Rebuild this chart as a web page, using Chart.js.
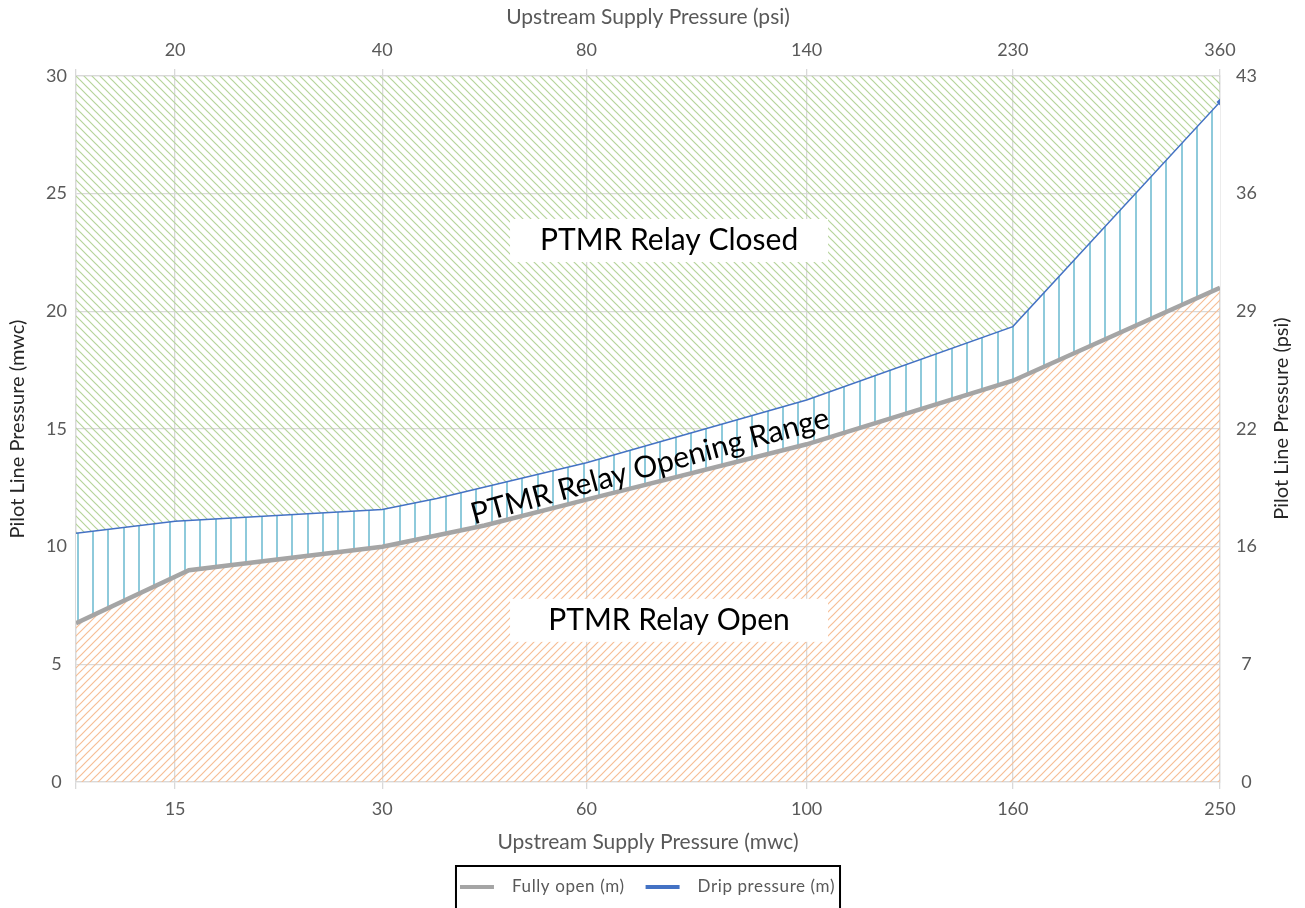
<!DOCTYPE html>
<html>
<head>
<meta charset="utf-8">
<script src="https://cdn.jsdelivr.net/npm/chart.js@4.4.1/dist/chart.umd.min.js"></script>
<style>
  html, body { margin: 0; padding: 0; background: #fff; }
  #wrap { width: 1305px; height: 908px; }
</style>
</head>
<body>
<div id="wrap"><canvas id="chart" width="1305" height="908"></canvas></div>
<script>
// Upstream supply pressure (mwc) at the vertical gridlines, first one is the unlabelled left edge
const upstreamTicks = [10, 15, 30, 60, 100, 160, 250];
const mwcLabels = ['', '15', '30', '60', '100', '160', '250'];
const psiLabels = ['', '20', '40', '80', '140', '230', '360'];
// right axis labels for pilot line pressure 0..30 mwc
const pilotPsiLabels = ['0', '7', '16', '22', '29', '36', '43'];

// Fully open (m)
const fullyOpenX = [10, 16, 30, 45, 60, 100, 160, 250];
const fullyOpenY = [6.75, 9.0, 10.0, 10.9, 12.0, 14.35, 17.05, 21.0];
// Drip pressure (m)
const dripX = [10, 15, 30, 38, 60, 100, 160, 250];
const dripY = [10.57, 11.08, 11.58, 12.05, 13.57, 16.23, 19.35, 28.9];

// relative width of each gap between the vertical gridlines (axis is not linear)
const segWidths = [99, 207, 204, 220, 206, 207];

function toFrac(v) {
    const total = segWidths.reduce((a, b) => a + b, 0);
    let acc = 0;
    for (let i = 0; i < segWidths.length; i++) {
        const a = upstreamTicks[i], b = upstreamTicks[i + 1];
        if (v <= b || i === segWidths.length - 1) {
            return (acc + segWidths[i] * (v - a) / (b - a)) / total;
        }
        acc += segWidths[i];
    }
}

function fromFrac(f) {
    const total = segWidths.reduce((a, b) => a + b, 0);
    let pos = f * total;
    for (let i = 0; i < segWidths.length; i++) {
        if (pos <= segWidths[i] || i === segWidths.length - 1) {
            const a = upstreamTicks[i], b = upstreamTicks[i + 1];
            return a + (b - a) * pos / segWidths[i];
        }
        pos -= segWidths[i];
    }
}

// linear scale, but piecewise between the gridlines
class SegmentScale extends Chart.LinearScale {
    getPixelForValue(v) {
        if (v === null || v === undefined || isNaN(v)) return NaN;
        return this.getPixelForDecimal(toFrac(v));
    }
    getValueForPixel(p) {
        return fromFrac(this.getDecimalForPixel(p));
    }
}
SegmentScale.id = 'segment';
SegmentScale.defaults = {};
Chart.register(SegmentScale);

const canvas = document.getElementById('chart');
const ctx = canvas.getContext('2d');

// hatch fills
function diagonalHatch(color, down) {
    const s = 8;
    const c = document.createElement('canvas');
    c.width = s; c.height = s;
    const g = c.getContext('2d');
    g.strokeStyle = color;
    g.lineWidth = 1.2;
    g.beginPath();
    if (down) {
        g.moveTo(-1, -1); g.lineTo(s + 1, s + 1);
        g.moveTo(-1, s - 1); g.lineTo(1, s + 1);
        g.moveTo(s - 1, -1); g.lineTo(s + 1, 1);
    } else {
        g.moveTo(-1, s + 1); g.lineTo(s + 1, -1);
        g.moveTo(-1, 1); g.lineTo(1, -1);
        g.moveTo(s - 1, s + 1); g.lineTo(s + 1, s - 1);
    }
    g.stroke();
    return ctx.createPattern(c, 'repeat');
}

function verticalLines(color) {
    const c = document.createElement('canvas');
    c.width = 46; c.height = 4;
    const g = c.getContext('2d');
    g.fillStyle = '#ffffff';
    g.fillRect(0, 0, 46, 4);
    g.fillStyle = color;
    [0, 15, 31].forEach(x => g.fillRect(x, 0, 2, 4));
    return ctx.createPattern(c, 'repeat');
}

const greenHatch = diagonalHatch('#B6D49B', true);
const orangeHatch = diagonalHatch('#F6BE96', false);
const cyanLines = verticalLines('#8ECADB');

const tickFont = { family: 'Lato', size: 18 };
const titleFont = { family: 'Lato', size: 21 };
const sideTitleFont = { family: 'Lato', size: 20 };
const gridColor = '#D9D9D9';

// region notes, placed as fractions of the plot area
const regionNotes = [
    { text: 'PTMR Relay Closed', cx: 0.5184, cy: 0.233, w: 0.278, h: 0.061 },
    { text: 'PTMR Relay Open', cx: 0.5184, cy: 0.771, w: 0.278, h: 0.061 }
];
const bandNote = { text: 'PTMR Relay Opening Range', cx: 0.504, cy: 0.566, angle: -15.3 };

const notesPlugin = {
    id: 'notes',
    afterDatasetsDraw(chart) {
        const { ctx, chartArea: a } = chart;
        const w = a.right - a.left, h = a.bottom - a.top;
        ctx.save();
        ctx.font = '30px Lato';
        ctx.textAlign = 'center';
        ctx.textBaseline = 'alphabetic';
        regionNotes.forEach(n => {
            const cx = a.left + n.cx * w, cy = a.top + n.cy * h;
            ctx.fillStyle = '#ffffff';
            ctx.fillRect(cx - n.w * w / 2, cy - n.h * h / 2, n.w * w, n.h * h);
            ctx.fillStyle = '#000000';
            ctx.fillText(n.text, cx, cy + 10);
        });
        ctx.translate(a.left + bandNote.cx * w, a.top + bandNote.cy * h);
        ctx.rotate(bandNote.angle * Math.PI / 180);
        ctx.fillStyle = '#000000';
        ctx.fillText(bandNote.text, 0, 0);
        ctx.restore();
    },
    afterDraw(chart) {
        const { ctx, chartArea: a } = chart;
        ctx.save();
        // right axis title reads bottom to top like the left one
        ctx.font = '20px Lato';
        ctx.fillStyle = '#262626';
        ctx.textAlign = 'center';
        ctx.textBaseline = 'middle';
        ctx.translate(chart.width - 23.3, 418.5);
        ctx.rotate(-Math.PI / 2);
        ctx.fillText('Pilot Line Pressure (psi)', 0, 0);
        ctx.restore();

        // legend in a black box
        ctx.save();
        ctx.font = '17px Lato';
        ctx.letterSpacing = '0.6px';
        const items = chart.data.datasets.slice(0, 2);
        const sample = 34, gapText = 18, gapItem = 21, padL = 4, padR = 5;
        const widths = items.map(d => ctx.measureText(d.label).width);
        const total = padL + items.length * (sample + gapText) + widths.reduce((s, v) => s + v, 0) + gapItem + padR;
        const left = (a.left + a.right) / 2 - total / 2;
        const top = 866, cy = 887;
        ctx.strokeStyle = '#000000';
        ctx.lineWidth = 2;
        ctx.strokeRect(left, top, total, 50);
        let x = left + padL;
        items.forEach((d, i) => {
            ctx.strokeStyle = d.borderColor;
            ctx.lineWidth = 4;
            ctx.beginPath();
            ctx.moveTo(x, cy);
            ctx.lineTo(x + sample, cy);
            ctx.stroke();
            x += sample + gapText;
            ctx.fillStyle = '#595959';
            ctx.textAlign = 'left';
            ctx.textBaseline = 'middle';
            ctx.fillText(d.label, x, cy);
            x += widths[i] + gapItem;
        });
        ctx.restore();
    }
};

const fullyOpenPoints = fullyOpenX.map((x, i) => ({ x: x, y: fullyOpenY[i] }));
const dripPoints = dripX.map((x, i) => ({ x: x, y: dripY[i] }));

new Chart(ctx, {
    type: 'line',
    data: {
        datasets: [
            {
                label: 'Fully open (m)',
                data: fullyOpenPoints,
                borderColor: '#A5A5A5',
                borderWidth: 4.5,
                pointRadius: 0,
                tension: 0,
                fill: 'origin',
                backgroundColor: orangeHatch
            },
            {
                label: 'Drip pressure (m)',
                data: dripPoints,
                borderColor: '#4472C4',
                borderWidth: 1.5,
                pointRadius: dripPoints.map((p, i) => i === dripPoints.length - 1 ? 3.5 : 0),
                pointStyle: 'rectRot',
                pointBackgroundColor: '#4472C4',
                pointBorderWidth: 0,
                tension: 0,
                fill: '-1',
                backgroundColor: cyanLines
            },
            {
                label: 'Closed',
                data: dripPoints,
                borderWidth: 0,
                borderColor: 'rgba(0,0,0,0)',
                pointRadius: 0,
                tension: 0,
                fill: 'end',
                backgroundColor: greenHatch
            }
        ]
    },
    options: {
        responsive: false,
        animation: false,
        devicePixelRatio: 1,
        events: [],
        layout: { padding: 0 },
        plugins: {
            legend: { display: false },
            tooltip: { enabled: false }
        },
        scales: {
            x: {
                type: 'segment',
                position: 'bottom',
                min: 10,
                max: 250,
                afterBuildTicks: s => { s.ticks = upstreamTicks.map(v => ({ value: v })); },
                ticks: {
                    autoSkip: false, maxRotation: 0, padding: 9,
                    color: '#595959', font: tickFont,
                    callback: (v, i) => mwcLabels[i]
                },
                grid: { color: gridColor, lineWidth: 1.3, tickLength: 7 },
                border: { color: gridColor, width: 1.3 },
                title: {
                    display: true, text: 'Upstream Supply Pressure (mwc)',
                    color: '#595959', font: titleFont, padding: { top: 0, bottom: 53.4 }
                },
                afterFit: s => { s.height = 126; }
            },
            x2: {
                type: 'segment',
                position: 'top',
                min: 10,
                max: 250,
                afterBuildTicks: s => { s.ticks = upstreamTicks.map(v => ({ value: v })); },
                ticks: {
                    autoSkip: false, maxRotation: 0, padding: 8.2,
                    color: '#595959', font: tickFont,
                    callback: (v, i) => psiLabels[i]
                },
                grid: { color: gridColor, lineWidth: 1.3, tickLength: 7, drawOnChartArea: false },
                border: { color: gridColor, width: 1.3 },
                title: {
                    display: true, text: 'Upstream Supply Pressure (psi)',
                    color: '#595959', font: titleFont, padding: { top: 5, bottom: 0 }
                },
                afterFit: s => { s.height = 76; }
            },
            y: {
                position: 'left',
                min: 0,
                max: 30,
                ticks: {
                    stepSize: 5, padding: 9, crossAlign: 'center',
                    color: '#595959', font: tickFont
                },
                grid: { color: gridColor, lineWidth: 1.3, drawTicks: false },
                border: { color: gridColor, width: 1.3 },
                title: {
                    display: true, text: 'Pilot Line Pressure (mwc)',
                    color: '#262626', font: sideTitleFont, padding: { top: 5.5, bottom: 0 }
                },
                afterFit: s => { s.width = 76; }
            },
            y2: {
                position: 'right',
                min: 0,
                max: 30,
                ticks: {
                    stepSize: 5, padding: 16, crossAlign: 'center',
                    color: '#595959', font: tickFont,
                    callback: (v, i) => pilotPsiLabels[i]
                },
                grid: { drawOnChartArea: false, drawTicks: false },
                border: { color: gridColor, width: 1.3 },
                afterFit: s => { s.width = 85; }
            }
        }
    },
    plugins: [notesPlugin]
});
</script>
</body>
</html>
